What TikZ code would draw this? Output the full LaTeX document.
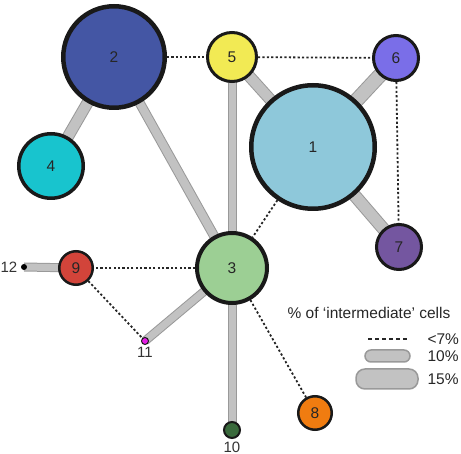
\documentclass[tikz,border=0pt]{standalone}
\usepackage{fontspec}
\setmainfont{Liberation Sans}
\usetikzlibrary{positioning}
\definecolor{cone}{RGB}{142,200,218}
\definecolor{ctwo}{RGB}{68,86,164}
\definecolor{cthree}{RGB}{156,207,148}
\definecolor{cfour}{RGB}{24,196,206}
\definecolor{cfive}{RGB}{242,234,84}
\definecolor{csix}{RGB}{122,110,232}
\definecolor{cseven}{RGB}{116,86,160}
\definecolor{ceight}{RGB}{240,124,16}
\definecolor{cnine}{RGB}{210,68,58}
\definecolor{cten}{RGB}{58,106,60}
\definecolor{celeven}{RGB}{228,28,228}
\pgfdeclarelayer{bg}
\pgfsetlayers{bg,main}

\begin{document}
\begin{tikzpicture}[
    x=1pt, y=-1pt,
    cell/.style={circle, draw=black!90, line width=3pt, inner sep=0pt,
                 font=\fontsize{15.5}{17}\selectfont, text=black!85},
    link/.style={draw=black!40, double=black!24, line width=1pt,
                 double distance=#1},
    weak/.style={draw=black!85, line width=1.8pt, dash pattern=on 2.2pt off 2.2pt},
    lbl/.style={font=\fontsize{15}{17}\selectfont, text=black!80},
    legtxt/.style={font=\fontsize{15.5}{17}\selectfont, text=black!85},
    legbar/.style={draw=black!40, fill=black!24, line width=1.5pt}
]
\useasboundingbox (0,0) rectangle (461,454);

\node[cell, fill=cone, line width=4.5pt, minimum size=123.5pt] (n1) at (313,147) {1};
\node[cell, fill=ctwo, line width=4.5pt, minimum size=101.5pt] (n2) at (114,57) {2};
\node[cell, fill=cthree, line width=4pt, minimum size=70pt] (n3) at (232,268) {3};
\node[cell, fill=cfour, line width=3.5pt, minimum size=64.5pt] (n4) at (51,166) {4};
\node[cell, fill=cfive, minimum size=49pt] (n5) at (232,57) {5};
\node[cell, fill=csix, minimum size=45pt] (n6) at (396,58) {6};
\node[cell, fill=cseven, minimum size=45pt] (n7) at (399,247) {7};
\node[cell, fill=ceight, line width=2.5pt, minimum size=33.5pt] (n8) at (315,413) {8};
\node[cell, fill=cnine, line width=2.5pt, minimum size=33.5pt] (n9) at (76,268) {9};
\node[cell, fill=cten, line width=2pt, minimum size=16pt] (n10) at (232,430) {};
\node[cell, fill=celeven, line width=1pt, minimum size=7pt] (n11) at (145,341) {};
\node[circle, fill=black, inner sep=0pt, minimum size=6pt] (n12) at (24,267) {};

\node[lbl, below=-1pt of n10] (t10) {10};
\node[lbl, below=-1pt of n11] (t11) {11};
\node[lbl, left=0pt of n12] (t12) {12};

\begin{pgfonlayer}{bg}
\draw[link=10pt] (n2.center) -- (n4.center);
\draw[link=8pt] (n2.center) -- (n3.center);
\draw[link=10pt] (n5.center) -- (n1.center);
\draw[link=7pt] (n5.center) -- (n3.center);
\draw[link=13pt] (n6.center) -- (n1.center);
\draw[link=11pt] (n1.center) -- (n7.center);
\draw[link=7pt] (n3.center) -- (n10.center);
\draw[link=7pt] (n3.center) -- (n11.center);
\draw[link=7pt] (n9.center) -- (n12.center);
\draw[weak] (n2) -- (n5);
\draw[weak] (n5) -- (n6);
\draw[weak] (n6) -- (n7);
\draw[weak] (n1) -- (n3);
\draw[weak] (n3) -- (n9);
\draw[weak] (n9) -- (n11);
\draw[weak] (n3) -- (n8);
\end{pgfonlayer}

\node[legtxt] (legtitle) at (369,313) {\% of ‘intermediate’ cells};
\draw[weak, line width=1.5pt, dash pattern=on 4pt off 3pt] (368,339) -- (407,339);
\draw[legbar, rounded corners=6pt] (365,350) rectangle (410,362);
\draw[legbar, rounded corners=9pt] (356,369) rectangle (418,389);
\node[legtxt, anchor=west] (leg7) at (424,339) {<7\%};
\node[legtxt, anchor=west] (leg10) at (424,356) {10\%};
\node[legtxt, anchor=west] (leg15) at (424,379) {15\%};
\end{tikzpicture}
\end{document}
